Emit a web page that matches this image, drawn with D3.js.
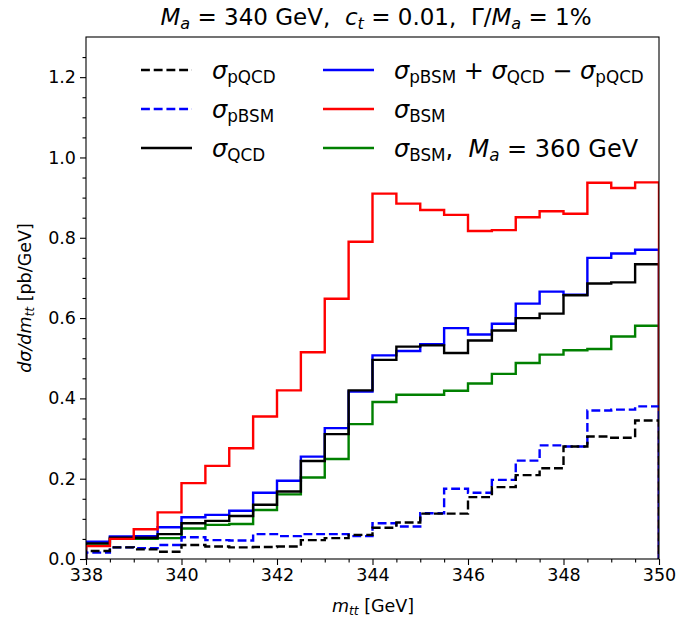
<!DOCTYPE html>
<html>
<head>
<meta charset="utf-8">
<script src="https://cdn.jsdelivr.net/npm/d3@7"></script>
<style>
  body { margin: 0; background: #fff; }
  text { font-family: "DejaVu Sans", sans-serif; white-space: pre; }
</style>
</head>
<body>
<div id="container"></div>
<script>
// bin edges of the m_tt histogram (GeV)
const binEdges = [338, 338.5, 339, 339.5, 340, 340.5, 341, 341.5, 342, 342.5, 343, 343.5,
  344, 344.5, 345, 345.5, 346, 346.5, 347, 347.5, 348, 348.5, 349, 349.5, 350]

// dsigma/dm_tt per bin (pb/GeV)
const pQCD = [0.020, 0.029, 0.024, 0.018, 0.035, 0.031, 0.029, 0.030, 0.031, 0.047, 0.052, 0.060,
  0.078, 0.091, 0.113, 0.113, 0.154, 0.179, 0.209, 0.226, 0.280, 0.305, 0.302, 0.345]
const pBSM = [0.016, 0.029, 0.027, 0.035, 0.054, 0.047, 0.046, 0.062, 0.057, 0.062, 0.062, 0.057,
  0.089, 0.081, 0.114, 0.175, 0.165, 0.197, 0.245, 0.283, 0.280, 0.370, 0.372, 0.380]
const QCD = [0.039, 0.053, 0.053, 0.062, 0.089, 0.095, 0.107, 0.135, 0.168, 0.244, 0.311, 0.420,
  0.496, 0.529, 0.532, 0.513, 0.544, 0.569, 0.600, 0.611, 0.657, 0.686, 0.689, 0.734]
const combo = [0.043, 0.056, 0.057, 0.079, 0.104, 0.110, 0.120, 0.165, 0.195, 0.255, 0.326, 0.417,
  0.507, 0.518, 0.535, 0.575, 0.559, 0.586, 0.636, 0.666, 0.658, 0.750, 0.761, 0.770]
const BSM = [0.032, 0.050, 0.074, 0.116, 0.189, 0.232, 0.276, 0.355, 0.420, 0.515, 0.648, 0.790,
  0.910, 0.885, 0.869, 0.857, 0.817, 0.819, 0.851, 0.866, 0.860, 0.937, 0.924, 0.938]
const BSM360 = [0.034, 0.050, 0.050, 0.052, 0.076, 0.085, 0.087, 0.122, 0.161, 0.203, 0.249, 0.336,
  0.391, 0.409, 0.409, 0.419, 0.437, 0.461, 0.488, 0.509, 0.520, 0.523, 0.554, 0.581]

const xTicks = [338, 340, 342, 344, 346, 348, 350]
const yTicks = [0.0, 0.2, 0.4, 0.6, 0.8, 1.0, 1.2]

const width = 685
const height = 619
const box = {left: 86, right: 659, top: 37, bottom: 559}

const svg = d3.create("svg")
  .attr("width", width)
  .attr("height", height)
d3.select("#container").append(() => svg.node())

const x = d3.scaleLinear().domain([338, 350]).range([box.left, box.right])
const y = d3.scaleLinear().domain([0, 1.3]).range([box.bottom, box.top])

// rich text: parts = [{t, it, sub}]
const richText = (sel, parts, size) => {
  const shift = size * 0.16
  let down = false
  parts.forEach(p => {
    const ts = sel.append("tspan").text(p.t)
      .attr("font-size", p.sub ? size * 0.7 : size)
      .attr("font-style", p.it ? "italic" : "normal")
    if (p.sub && !down) { ts.attr("dy", shift); down = true }
    else if (!p.sub && down) { ts.attr("dy", -shift); down = false }
  })
  return sel
}

svg.append("clipPath").attr("id", "plotclip")
  .append("rect")
  .attr("x", box.left).attr("y", box.top)
  .attr("width", box.right - box.left).attr("height", box.bottom - box.top)

const lw = 2.4
const dash = (3.7 * lw) + "," + (1.6 * lw)
const series = [
  {name: "BSM360", values: BSM360, color: "#008000", dash: null},
  {name: "combo", values: combo, color: "#0000ff", dash: null},
  {name: "QCD", values: QCD, color: "#000000", dash: null},
  {name: "BSM", values: BSM, color: "#ff0000", dash: null},
  {name: "pBSM", values: pBSM, color: "#0000ff", dash: dash},
  {name: "pQCD", values: pQCD, color: "#000000", dash: dash}
]

const stepLine = d3.line()
  .x(d => x(d[0]))
  .y(d => y(d[1]))
  .curve(d3.curveStepAfter)

const stepPoints = (vals) => {
  const pts = [[binEdges[0], 0]]
  vals.forEach((v, i) => pts.push([binEdges[i], v]))
  pts.push([binEdges[binEdges.length - 1], vals[vals.length - 1]])
  pts.push([binEdges[binEdges.length - 1], 0])
  return pts
}

svg.append("g").attr("clip-path", "url(#plotclip)")
  .selectAll("path")
  .data(series)
  .join("path")
  .attr("d", d => stepLine(stepPoints(d.values)))
  .attr("fill", "none")
  .attr("stroke", d => d.color)
  .attr("stroke-width", lw)
  .attr("stroke-dasharray", d => d.dash)
  .attr("stroke-linejoin", "miter")

// axes
const xAxis = svg.append("g")
  .attr("transform", `translate(0,${box.bottom})`)
  .call(d3.axisBottom(x).tickValues(xTicks).tickFormat(d3.format("d")).tickSize(6).tickPadding(4))
const xMinor = svg.append("g")
  .attr("transform", `translate(0,${box.bottom})`)
  .call(d3.axisBottom(x).tickValues(binEdges.filter(e => !xTicks.includes(e))).tickFormat("").tickSize(3.5))

const yAxis = svg.append("g")
  .attr("transform", `translate(${box.left},0)`)
  .call(d3.axisLeft(y).tickValues(yTicks).tickFormat(d3.format(".1f")).tickSize(6).tickPadding(4))
const yMinorVals = [0.05, 0.1, 0.15, 0.25, 0.3, 0.35, 0.45, 0.5, 0.55, 0.65, 0.7, 0.75,
  0.85, 0.9, 0.95, 1.05, 1.1, 1.15, 1.25]
const yMinor = svg.append("g")
  .attr("transform", `translate(${box.left},0)`)
  .call(d3.axisLeft(y).tickValues(yMinorVals).tickFormat("").tickSize(3.5))

;[xAxis, xMinor, yAxis, yMinor].forEach(g => {
  g.select(".domain").remove()
  g.selectAll(".tick line").attr("stroke", "#000").attr("stroke-width", 1.1)
  g.selectAll(".tick text").attr("font-size", 17.5).attr("fill", "#000")
    .attr("font-family", "DejaVu Sans")
})

svg.append("rect")
  .attr("x", box.left).attr("y", box.top)
  .attr("width", box.right - box.left).attr("height", box.bottom - box.top)
  .attr("fill", "none").attr("stroke", "#000").attr("stroke-width", 1.1)

// axis labels
richText(svg.append("text").attr("x", 373).attr("y", 612).attr("text-anchor", "middle"),
  [{t: "m", it: true}, {t: "tt", it: true, sub: true}, {t: " [GeV]"}], 17.5)

richText(svg.append("text").attr("transform", "translate(31,298) rotate(-90)").attr("text-anchor", "middle"),
  [{t: "dσ/dm", it: true}, {t: "tt", it: true, sub: true}, {t: " [pb/GeV]"}], 17.5)

// title
richText(svg.append("text").attr("x", 376).attr("y", 25).attr("text-anchor", "middle"),
  [{t: "M", it: true}, {t: "a", it: true, sub: true}, {t: " = 340 GeV,  "},
   {t: "c", it: true}, {t: "t", it: true, sub: true}, {t: " = 0.01,  Γ/"},
   {t: "M", it: true}, {t: "a", it: true, sub: true}, {t: " = 1%"}], 23)

// legend
const legendItems = [
  {col: 0, row: 0, s: series[5], parts: [{t: "σ", it: true}, {t: "pQCD", sub: true}]},
  {col: 0, row: 1, s: series[4], parts: [{t: "σ", it: true}, {t: "pBSM", sub: true}]},
  {col: 0, row: 2, s: series[2], parts: [{t: "σ", it: true}, {t: "QCD", sub: true}]},
  {col: 1, row: 0, s: series[1], parts: [{t: "σ", it: true}, {t: "pBSM", sub: true}, {t: " + "},
    {t: "σ", it: true}, {t: "QCD", sub: true}, {t: " − "}, {t: "σ", it: true}, {t: "pQCD", sub: true}]},
  {col: 1, row: 1, s: series[3], parts: [{t: "σ", it: true}, {t: "BSM", sub: true}]},
  {col: 1, row: 2, s: series[0], parts: [{t: "σ", it: true}, {t: "BSM", sub: true}, {t: ",  "},
    {t: "M", it: true}, {t: "a", it: true, sub: true}, {t: " = 360 GeV"}]}
]
const colX = [141, 323]
const rowY = [70, 109, 148]
const legend = svg.append("g")
legendItems.forEach(it => {
  const lx = colX[it.col], ly = rowY[it.row]
  legend.append("line")
    .attr("x1", lx).attr("x2", lx + 51).attr("y1", ly).attr("y2", ly)
    .attr("stroke", it.s.color).attr("stroke-width", lw)
    .attr("stroke-dasharray", it.s.dash)
  richText(legend.append("text").attr("x", lx + 71).attr("y", ly + 9), it.parts, 24)
})
</script>
</body>
</html>
